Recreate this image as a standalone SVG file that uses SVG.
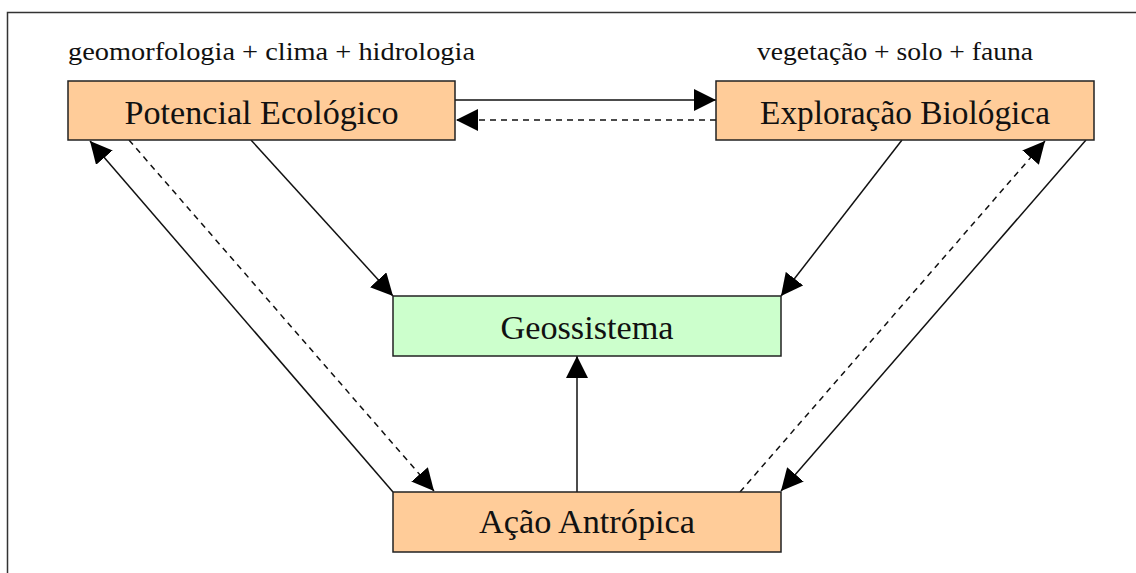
<svg xmlns="http://www.w3.org/2000/svg" width="1136" height="573" viewBox="0 0 1136 573">
  <defs>
    <style>
      .box { stroke: #222; stroke-width: 1.5; }
      .orange { fill: #FFCC99; }
      .green { fill: #CCFFCC; }
      .lbl { font-family: "Liberation Serif", "Times New Roman", serif; fill: #111; }
      .big { font-size: 33px; }
      .small { font-size: 26px; }
      .conn { stroke: #111; stroke-width: 1.5; fill: none; }
      .dash { stroke-dasharray: 6 5; }
    </style>
    <marker id="arr" markerUnits="userSpaceOnUse" markerWidth="22" markerHeight="22" refX="20" refY="10" orient="auto" viewBox="0 0 20 20">
      <path d="M0,0 L20,10 L0,20 z" fill="#000" stroke="none"/>
    </marker>
  </defs>
  <rect x="0" y="0" width="1136" height="573" fill="#fff"/>
  <path d="M7.5,573 L7.5,12.5 L1136,12.5" fill="none" stroke="#333" stroke-width="1.5"/>

  <text class="lbl small" x="68" y="60" textLength="407" lengthAdjust="spacingAndGlyphs">geomorfologia + clima + hidrologia</text>
  <text class="lbl small" x="757" y="60" textLength="276" lengthAdjust="spacingAndGlyphs">vegetação + solo + fauna</text>

  <g id="connectors">
    <path class="conn" d="M455,100 L716,100" marker-end="url(#arr)"/>
    <path class="conn dash" d="M716,120 L456,120" marker-end="url(#arr)"/>
    <path class="conn" d="M251,140 L393,296" marker-end="url(#arr)"/>
    <path class="conn" d="M902,140 L781,296" marker-end="url(#arr)"/>
    <path class="conn" d="M393,492 L90,141" marker-end="url(#arr)"/>
    <path class="conn dash" d="M129,140 L434,491" marker-end="url(#arr)"/>
    <path class="conn dash" d="M740,492 L1045,141" marker-end="url(#arr)"/>
    <path class="conn" d="M1086,140 L781,491" marker-end="url(#arr)"/>
    <path class="conn" d="M577,492 L577,356" marker-end="url(#arr)"/>
  </g>

  <g id="potencial">
    <rect class="box orange" x="68" y="81" width="387" height="59"/>
    <text class="lbl big" x="261.5" y="124" text-anchor="middle" textLength="274" lengthAdjust="spacingAndGlyphs">Potencial Ecológico</text>
  </g>
  <g id="exploracao">
    <rect class="box orange" x="716" y="81" width="378" height="59"/>
    <text class="lbl big" x="905" y="124" text-anchor="middle" textLength="290" lengthAdjust="spacingAndGlyphs">Exploração Biológica</text>
  </g>
  <g id="geossistema">
    <rect class="box green" x="393" y="296" width="388" height="60"/>
    <text class="lbl big" x="587" y="339" text-anchor="middle" textLength="173" lengthAdjust="spacingAndGlyphs">Geossistema</text>
  </g>
  <g id="acao">
    <rect class="box orange" x="393" y="492" width="388" height="60"/>
    <text class="lbl big" x="587" y="533" text-anchor="middle" textLength="216" lengthAdjust="spacingAndGlyphs">Ação Antrópica</text>
  </g>
</svg>
